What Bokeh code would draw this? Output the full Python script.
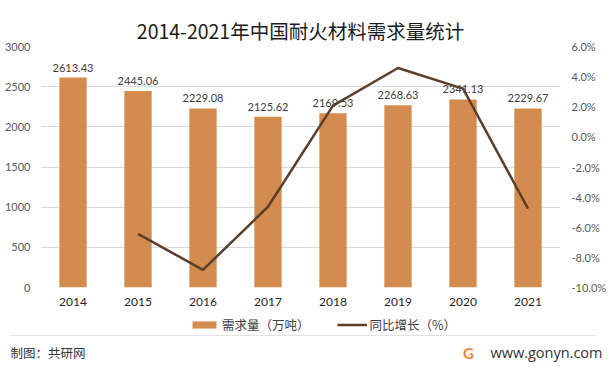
from bokeh.plotting import figure
from bokeh.models import (Range1d, LinearAxis, Legend, LegendItem, FixedTicker, Title)
from bokeh.layouts import column
from bokeh.embed import file_html
from bokeh.resources import INLINE
from bokeh.core.properties import value

years = ["2014", "2015", "2016", "2017", "2018", "2019", "2020", "2021"]
demand = [2613.43, 2445.06, 2229.08, 2125.62, 2169.53, 2268.63, 2341.13, 2229.67]
demand_labels = ["2613.43", "2445.06", "2229.08", "2125.62", "2169.53", "2268.63", "2341.13", "2229.67"]
growth_years = ["2015", "2016", "2017", "2018", "2019", "2020", "2021"]
growth = [-6.44, -8.83, -4.64, 2.07, 4.57, 3.20, -4.76]
left_ticks = [0, 500, 1000, 1500, 2000, 2500, 3000]
right_ticks = [-10, -8, -6, -4, -2, 0, 2, 4, 6]
right_labels = ["-10.0%", "-8.0%", "-6.0%", "-4.0%", "-2.0%", "0.0%", "2.0%", "4.0%", "6.0%"]

title_text = "2014-2021年中国耐火材料需求量统计"
legend_bar = "需求量（万吨）"
legend_line = "同比增长（%）"
footer_left = ["制图：共研网"]
footer_right = ["www.gonyn.com"]
logo_text = ["G"]

CJK = "Noto Sans CJK SC"
NUM = "Lato"
BAR_COLOR = "#D38C4E"
LINE_COLOR = "#5B3E2C"
LOGO_COLOR = "#F27F33"
W = 610


def no_frame_align(fig):
    try:
        fig.frame_align = False
    except Exception:
        pass


# ---------- main chart ----------
p = figure(width=W, height=313, x_range=years, y_range=Range1d(0, 3000),
           output_backend="svg", toolbar_location=None,
           min_border_left=40, min_border_right=50, min_border_top=46, min_border_bottom=26)
p.title = Title(text=title_text, align="center", offset=5, standoff=3,
                text_font=CJK, text_font_size="19.5px", text_font_style="normal",
                text_color="#1a1a1a")
no_frame_align(p)
p.outline_line_color = None
p.background_fill_color = "white"
p.border_fill_color = "white"
p.extra_y_ranges = {"pct": Range1d(-10, 6)}

p.yaxis.ticker = FixedTicker(ticks=left_ticks)
p.yaxis.axis_line_color = None
p.yaxis.major_tick_line_color = None
p.yaxis.minor_tick_line_color = None
p.yaxis.major_tick_out = 0
p.yaxis.minor_tick_out = 0
p.yaxis.major_label_standoff = 10
p.yaxis.major_label_text_font = NUM
p.yaxis.major_label_text_font_size = "11px"
p.yaxis.major_label_text_color = "#595959"

ra = LinearAxis(y_range_name="pct", ticker=FixedTicker(ticks=right_ticks))
ra.major_label_overrides = {tk: lb for tk, lb in zip(right_ticks, right_labels)}
ra.axis_line_color = None
ra.major_tick_line_color = None
ra.minor_tick_line_color = None
ra.major_tick_out = 0
ra.minor_tick_out = 0
ra.major_label_standoff = 11
ra.major_label_text_font = NUM
ra.major_label_text_font_size = "11px"
ra.major_label_text_color = "#595959"
p.add_layout(ra, "right")

p.xaxis.axis_line_color = None
p.xaxis.major_tick_line_color = None
p.xaxis.major_tick_out = 0
p.xaxis.major_label_standoff = 10
p.xaxis.major_label_text_font = NUM
p.xaxis.major_label_text_font_size = "12px"
p.xaxis.major_label_text_color = "#262626"

p.xgrid.grid_line_color = None
p.ygrid.ticker = FixedTicker(ticks=left_ticks)
p.ygrid.grid_line_color = "#d9d9d9"

p.vbar(x=years, top=demand, width=0.42, color=BAR_COLOR, line_color=None)
p.text(x=years, y=demand, text=demand_labels, y_offset=-6, text_align="center",
       text_baseline="bottom", text_font=value(NUM), text_font_size="11px",
       text_color="#404040")
p.line(x=growth_years, y=growth, y_range_name="pct", color=LINE_COLOR, line_width=2.5)

# ---------- footer: legend, rule, credits ----------
fh = 55
f = figure(width=W, height=fh, x_range=Range1d(0, W), y_range=Range1d(fh, 0),
           output_backend="svg", toolbar_location=None, title=None,
           x_axis_type=None, y_axis_type=None,
           min_border=0, min_border_left=0, min_border_right=0,
           min_border_top=0, min_border_bottom=0)
no_frame_align(f)
f.outline_line_color = None
f.xgrid.visible = False
f.ygrid.visible = False
f.background_fill_color = "white"
f.border_fill_color = "white"

lb = f.vbar(x=[-100], top=[-100], bottom=[-101], width=1, color=BAR_COLOR, line_color=None)
ll = f.line(x=[-100, -99], y=[-100, -100], color=LINE_COLOR, line_width=2.5)
legend = Legend(items=[LegendItem(label=legend_bar, renderers=[lb]),
                       LegendItem(label=legend_line, renderers=[ll])],
                orientation="horizontal", location=(189, 34),
                glyph_width=30, glyph_height=9, label_height=14, label_standoff=3, spacing=27,
                padding=0, margin=0, border_line_color=None, background_fill_alpha=0,
                label_text_font=CJK, label_text_font_size="12.5px", label_text_color="#404040")
f.add_layout(legend, "center")
f.segment(x0=[10], y0=[22], x1=[596], y1=[22], line_color="#e3e3e3", line_width=1)
f.text(x=[10], y=[39], text=footer_left, text_align="left", text_baseline="middle",
       text_font=value(CJK), text_font_size="12.5px", text_color="#333333")
f.text(x=[468], y=[39], text=logo_text, text_align="center", text_baseline="middle",
       text_font=value(NUM), text_font_style="bold", text_font_size="15px", text_color=LOGO_COLOR)
f.text(x=[602], y=[39], text=footer_right, text_align="right", text_baseline="middle",
       text_font=value("Open Sans"), text_font_size="14.5px", text_color="#333333")

layout = column(p, f, spacing=0)
open("out.html", "w").write(file_html(layout, INLINE))
